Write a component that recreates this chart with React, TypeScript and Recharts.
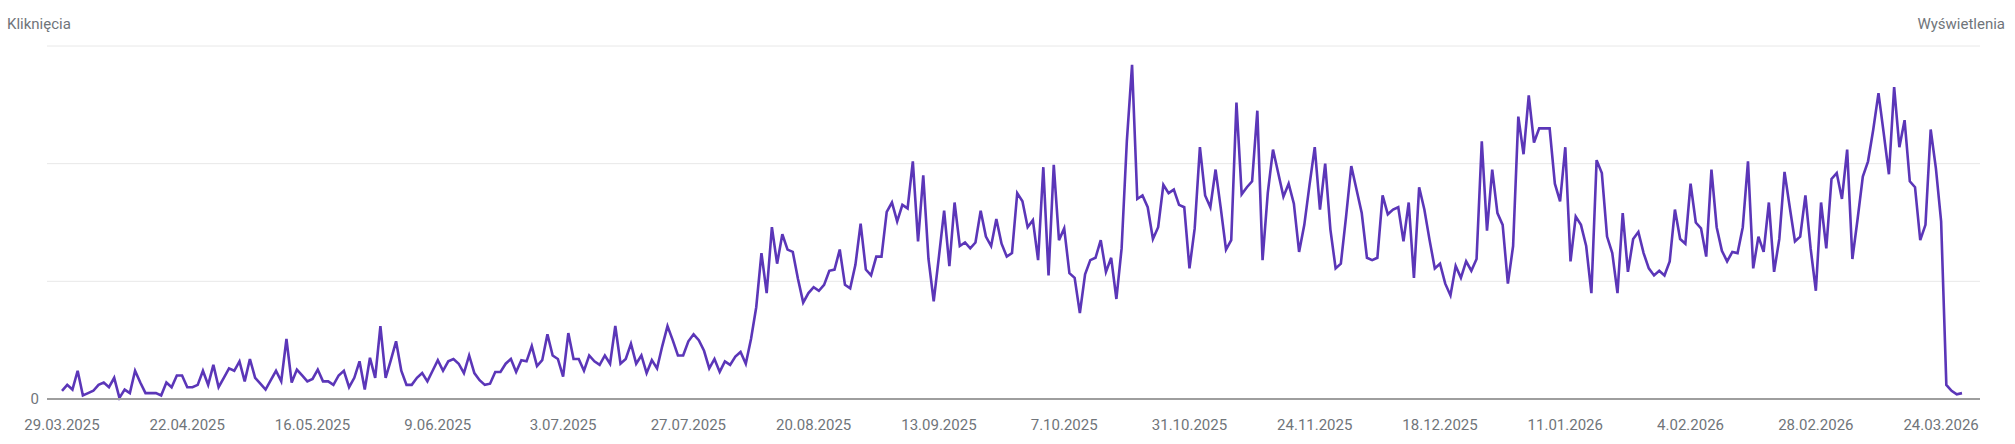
import { LineChart, Line, XAxis, YAxis, CartesianGrid } from 'recharts';

// daily clicks, 29.03.2025 .. 28.03.2026 (relative units)
const clicksSpring = [
    0.7, 1.2, 0.8, 2.4, 0.3, 0.5, 0.7, 1.2, 1.4, 1.0, 1.8, 0.1, 0.8, 0.5, 2.4, 1.4, 0.5, 0.5, 0.5, 0.3,
    1.4, 1.0, 2.0, 2.0, 1.0, 1.0, 1.2, 2.4, 1.2, 2.9, 1.0, 1.8, 2.6, 2.4, 3.2, 1.5, 3.4, 1.8, 1.3, 0.8,
    1.6, 2.4, 1.5, 5.1, 1.4, 2.5, 2.0, 1.5, 1.7, 2.5, 1.5, 1.5, 1.2, 2.0, 2.4, 1.0, 1.8, 3.2, 0.8, 3.5,
];
const clicksSummer = [
    1.8, 6.2, 1.8, 3.3, 4.9, 2.4, 1.2, 1.2, 1.8, 2.2, 1.5, 2.4, 3.3, 2.4, 3.2, 3.4, 3.0, 2.2, 3.7, 2.2,
    1.6, 1.2, 1.3, 2.3, 2.3, 3.0, 3.4, 2.3, 3.3, 3.2, 4.5, 2.8, 3.3, 5.5, 3.7, 3.4, 1.9, 5.6, 3.4, 3.4,
    2.4, 3.7, 3.2, 2.9, 3.7, 3.0, 6.2, 3.0, 3.4, 4.7, 3.0, 3.7, 2.2, 3.3, 2.6, 4.5, 6.2, 5.0, 3.7, 3.7,
];
const clicksLateSummer = [
    4.9, 5.5, 5.0, 4.1, 2.6, 3.4, 2.3, 3.2, 2.9, 3.6, 4.0, 3.0, 5.1, 7.8, 12.4, 9.0, 14.6, 11.5, 14.0, 12.7,
    12.5, 10.2, 8.2, 9.0, 9.5, 9.2, 9.7, 10.9, 11.0, 12.7, 9.7, 9.4, 11.4, 14.9, 11.0, 10.5, 12.1, 12.1, 15.9, 16.7,
    15.1, 16.5, 16.2, 20.2, 13.4, 19.0, 11.9, 8.3, 12.1, 16.0, 11.3, 16.7, 13.0, 13.3, 12.8, 13.3, 16.0, 13.8, 13.0, 15.3,
    13.2, 12.1,
];
const clicksAutumn = [
    12.4, 17.5, 16.8, 14.6, 15.2, 11.8, 19.7, 10.5, 19.9, 13.5, 14.5, 10.7, 10.3, 7.3, 10.6, 11.8, 12.0, 13.5, 10.8, 12.0,
    8.5, 12.8, 21.9, 28.4, 17.0, 17.3, 16.3, 13.6, 14.6, 18.2, 17.5, 17.8, 16.5, 16.3, 11.1, 14.5, 21.4, 17.3, 16.3, 19.5,
    16.2, 12.7, 13.5, 25.2, 17.4, 18.0, 18.5, 24.5, 11.8, 17.5, 21.2, 19.2, 17.2, 18.3, 16.6, 12.5, 14.8, 18.2, 21.4, 16.1,
    20.0,
];
const clicksWinter = [
    14.4, 11.1, 11.5, 15.5, 19.8, 17.8, 15.8, 12.0, 11.8, 12.0, 17.3, 15.7, 16.1, 16.3, 13.4, 16.7, 10.3, 18.0, 16.1, 13.5,
    11.1, 11.5, 9.8, 8.8, 11.3, 10.3, 11.7, 10.9, 11.9, 21.9, 14.3, 19.5, 15.8, 14.8, 9.8, 13.0, 24.0, 20.8, 25.8, 21.8,
    23.0, 23.0, 23.0, 18.3, 16.8, 21.4, 11.7, 15.5, 14.8, 13.0, 9.0, 20.3, 19.2, 13.8, 12.4, 9.0, 15.8, 10.8, 13.6,
];
const clicksEarly2026 = [
    14.2, 12.4, 11.1, 10.5, 10.9, 10.5, 11.7, 16.1, 13.6, 13.2, 18.3, 15.0, 14.5, 12.1, 19.5, 14.6, 12.6, 11.7, 12.5, 12.4,
    14.6, 20.2, 11.1, 13.8, 12.5, 16.7, 10.8, 13.6, 19.3, 16.3, 13.4, 13.8, 17.3, 12.8, 9.2, 16.7, 12.8, 18.7, 19.2, 17.0,
    21.2, 11.9, 15.3, 18.9, 20.2, 22.9, 26.0, 22.6, 19.1, 26.5, 21.4, 23.7, 18.5, 18.0, 13.5, 14.8, 22.9, 19.6, 15.1, 1.2,
    0.7, 0.4, 0.5,
];

const tickDays = [0, 24, 48, 72, 96, 120, 144, 168, 192, 216, 240, 264, 288, 312, 336, 360];
const tickLabels = [
    '29.03.2025', '22.04.2025', '16.05.2025', '9.06.2025', '3.07.2025', '27.07.2025', '20.08.2025', '13.09.2025',
    '7.10.2025', '31.10.2025', '24.11.2025', '18.12.2025', '11.01.2026', '4.02.2026', '28.02.2026', '24.03.2026',
];

const clicks = [...clicksSpring, ...clicksSummer, ...clicksLateSummer, ...clicksAutumn, ...clicksWinter, ...clicksEarly2026];
const data = clicks.map((v, i) => ({ day: i, clicks: v }));

const font = 'Roboto, "Noto Sans", sans-serif';
const textColor = '#70757a';

const XTick = (props: any) => {
    const { x, y, payload } = props;
    const idx = tickDays.indexOf(payload.value);
    return (
        <text x={x} y={y} dy="0.35em" textAnchor="middle" fontSize={15} fill={textColor} fontFamily={font}>
            {tickLabels[idx]}
        </text>
    );
};

const YTick = (props: any) => {
    const { x, y, payload } = props;
    if (payload.value !== 0) return <g />;
    return (
        <text x={x} y={y} dy="0.35em" textAnchor="end" fontSize={15} fill={textColor} fontFamily={font}>0</text>
    );
};

export default function App() {
    return (
        <div style={{ position: 'absolute', left: 0, top: 0, width: 2015, height: 444, background: '#fff', fontFamily: font }}>
            <div style={{ position: 'absolute', left: 7, top: 15, fontSize: 15, color: textColor }}>Kliknięcia</div>
            <div style={{ position: 'absolute', right: 10, top: 15, fontSize: 15, color: textColor }}>Wyświetlenia</div>
            <LineChart width={2015} height={444} data={data} margin={{ top: 46, right: 35, left: 0, bottom: 0 }}>
                <CartesianGrid vertical={false} stroke="#e8e8e8" strokeWidth={1} />
                <XAxis
                    dataKey="day"
                    type="number"
                    domain={[0, 364]}
                    ticks={tickDays}
                    padding={{ left: 15, right: 18 }}
                    height={45}
                    tickLine={false}
                    tickSize={0}
                    tickMargin={26}
                    axisLine={{ stroke: '#9e9e9e', strokeWidth: 2 }}
                    tick={XTick}
                    interval={0}
                />
                <YAxis
                    domain={[0, 30]}
                    ticks={[0, 10, 20, 30]}
                    width={47}
                    axisLine={false}
                    tickLine={false}
                    tickSize={0}
                    tickMargin={8}
                    tick={YTick}
                />
                <Line type="linear" dataKey="clicks" stroke="#5b36b8" strokeWidth={2.6} dot={false} isAnimationActive={false} />
            </LineChart>
        </div>
    );
}
